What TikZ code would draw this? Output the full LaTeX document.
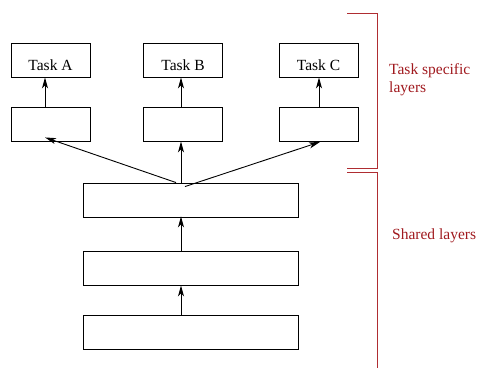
\documentclass[tikz,border=0pt]{standalone}
\usepackage{fontspec}
\setmainfont{Liberation Serif}
\usetikzlibrary{arrows.meta}
\definecolor{brk}{RGB}{175,45,50}
\definecolor{lbl}{RGB}{160,25,30}
\begin{document}
\begin{tikzpicture}[x=1pt,y=-1pt,
  box/.style={draw,line width=0.9pt,inner sep=0pt,minimum width=79pt,minimum height=34pt,font=\fontsize{15.5}{18}\selectfont},
  wide/.style={draw,line width=0.9pt,inner sep=0pt,minimum width=215pt,minimum height=34pt},
  arr/.style={line width=0.9pt,-{Stealth[length=11pt,width=6pt,inset=3pt]}},
  bracket/.style={draw=brk,line width=1pt},
  side/.style={text=lbl,font=\fontsize{15.5}{18}\selectfont,align=left,anchor=west,inner sep=0pt}]
\useasboundingbox (0,0) rectangle (479,367);
% task output boxes
\node[box] (ta) at (50.5,60) {\raisebox{-10.5pt}[0pt][0pt]{Task A}\hspace{10pt}};
\node[box] (tb) at (183,60) {\raisebox{-10.5pt}[0pt][0pt]{Task B}\hspace{10pt}};
\node[box] (tc) at (318.5,60) {\raisebox{-10.5pt}[0pt][0pt]{Task C}\hspace{4pt}};
% task specific hidden boxes
\node[box] (ha) at (50.5,124) {};
\node[box] (hb) at (183,124) {};
\node[box] (hc) at (318.5,124) {};
% shared boxes
\node[wide] (s3) at (190.5,200) {};
\node[wide] (s2) at (190.5,268) {};
\node[wide] (s1) at (190.5,332) {};
% connectors
\draw[arr] (s1.north -| 181,0) -- (s2.south -| 181,0);
\draw[arr] ([yshift=-0.5pt]s2.north -| 181,0) -- ([yshift=1pt]s3.south -| 181,0);
\draw[arr] (s3.north -| 181,0) -- (hb.south -| 181,0);
\draw[arr] (s3.north -| 176,0) -- ([xshift=-5.5pt,yshift=4pt]ha.south);
\draw[arr] ([xshift=4pt,yshift=-4pt]s3.north -| 181,0) -- ([xshift=1.5pt,yshift=-0.5pt]hc.south);
\draw[arr] (ha.north -| 45,0) -- (ta.south -| 45,0);
\draw[arr] (hb.north -| 181,0) -- (tb.south -| 181,0);
\draw[arr] (hc.north -| 319,0) -- (tc.south -| 319,0);
% brackets
\draw[bracket] (347,13) -- (377,13) -- (377,168) -- (347,168);
\draw[bracket] (347,172) -- (377,172) -- (377,370);
% labels
\node[side] (l1) at (389,80) {Task specific\\layers};
\node[side] (l2) at (392,236) {Shared layers};
\end{tikzpicture}
\end{document}
